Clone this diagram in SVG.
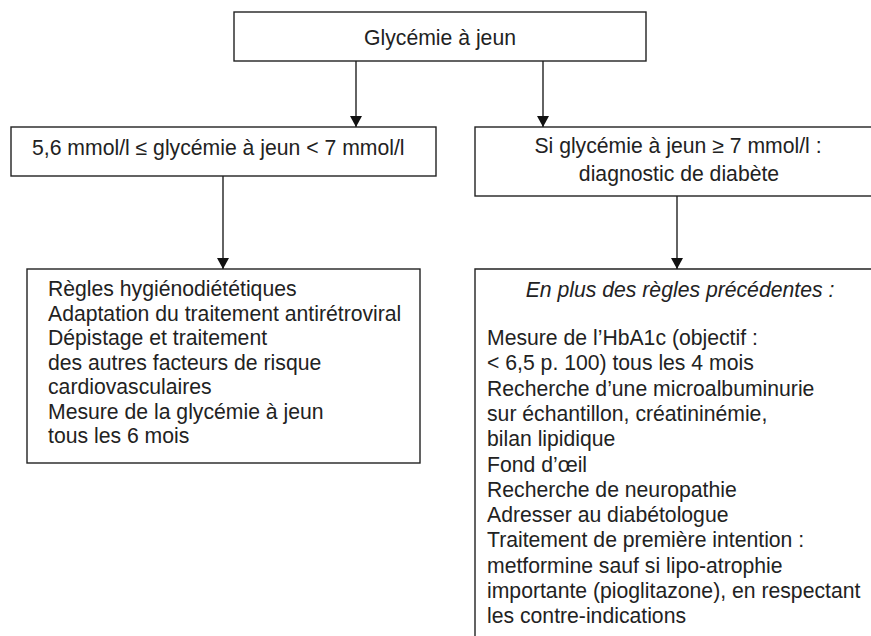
<svg xmlns="http://www.w3.org/2000/svg" width="871" height="636" viewBox="0 0 871 636">
<defs>
<style>
.box{fill:#fff;stroke:#222;stroke-width:1.4}
.t{font-family:"Liberation Sans",Arial,sans-serif;font-size:21.2px;fill:#222}
.c{text-anchor:middle}
.i{font-style:italic}
.ln{stroke:#222;stroke-width:1.4;fill:none}
</style>
<marker id="ah" markerWidth="11" markerHeight="12" refX="11" refY="6" orient="auto" markerUnits="userSpaceOnUse" viewBox="0 0 11 12">
<path d="M0,0 L11,6 L0,12 Z" fill="#111"/>
</marker>
</defs>
<rect width="871" height="636" fill="#fff"/>
<g id="n-top">
<rect class="box" x="234" y="12" width="412" height="49"/>
<text class="t c" x="440" y="45">Glycémie à jeun</text>
</g>
<g id="n-left">
<rect class="box" x="11" y="127" width="425" height="49"/>
<text class="t" x="32" y="155">5,6 mmol/l ≤ glycémie à jeun &lt; 7 mmol/l</text>
</g>
<g id="n-right">
<rect class="box" x="475" y="127" width="420" height="69"/>
<text class="t c" x="678" y="153">Si glycémie à jeun ≥ 7 mmol/l :</text>
<text class="t c" x="679" y="181">diagnostic de diabète</text>
</g>
<g id="n-left-bottom">
<rect class="box" x="27" y="269" width="393" height="194"/>
<text class="t" x="48" y="296">Règles hygiénodiététiques</text>
<text class="t" x="48" y="320.5">Adaptation du traitement antirétroviral</text>
<text class="t" x="48" y="345">Dépistage et traitement</text>
<text class="t" x="48" y="369.5">des autres facteurs de risque</text>
<text class="t" x="48" y="394">cardiovasculaires</text>
<text class="t" x="48" y="418.5">Mesure de la glycémie à jeun</text>
<text class="t" x="48" y="443">tous les 6 mois</text>
</g>
<g id="n-right-bottom">
<path class="ln" d="M880,269 H475 V640"/>
<text class="t c i" x="680" y="297">En plus des règles précédentes :</text>
<text class="t" x="487" y="345">Mesure de l’HbA1c (objectif :</text>
<text class="t" x="487" y="370.3">&lt; 6,5 p. 100) tous les 4 mois</text>
<text class="t" x="487" y="395.6">Recherche d’une microalbuminurie</text>
<text class="t" x="487" y="420.9">sur échantillon, créatininémie,</text>
<text class="t" x="487" y="446.2">bilan lipidique</text>
<text class="t" x="487" y="471.5">Fond d’œil</text>
<text class="t" x="487" y="496.8">Recherche de neuropathie</text>
<text class="t" x="487" y="522.1">Adresser au diabétologue</text>
<text class="t" x="487" y="547.4">Traitement de première intention :</text>
<text class="t" x="487" y="572.7">metformine sauf si lipo-atrophie</text>
<text class="t" x="487" y="598">importante (pioglitazone), en respectant</text>
<text class="t" x="487" y="623.3">les contre-indications</text>
</g>
<g id="connectors">
<line class="ln" x1="356" y1="61" x2="356" y2="127" marker-end="url(#ah)"/>
<line class="ln" x1="543" y1="61" x2="543" y2="127" marker-end="url(#ah)"/>
<line class="ln" x1="223" y1="176" x2="223" y2="269" marker-end="url(#ah)"/>
<line class="ln" x1="677" y1="196" x2="677" y2="269" marker-end="url(#ah)"/>
</g>
</svg>
